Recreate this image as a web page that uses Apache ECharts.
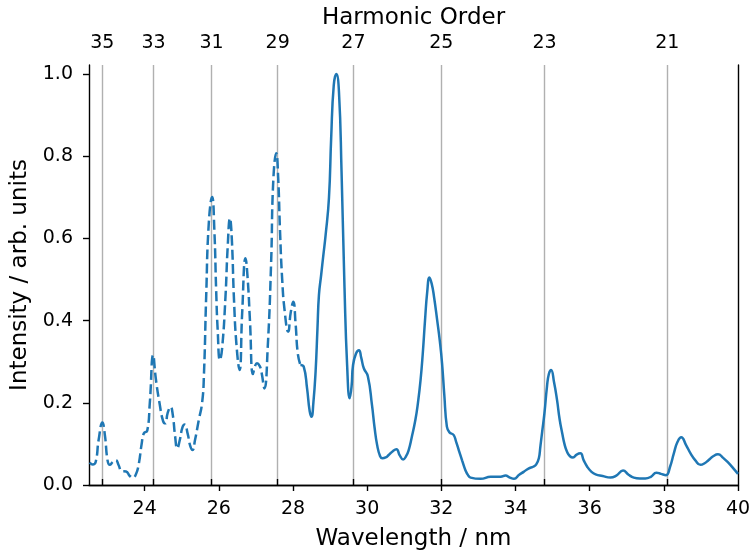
<!DOCTYPE html>
<html>
<head>
<meta charset="utf-8">
<script src="https://cdn.jsdelivr.net/npm/echarts@6/dist/echarts.min.js"></script>
<style>
html,body{margin:0;padding:0;background:#fff;}
#chart{width:752px;height:552px;}
</style>
</head>
<body>
<div id="chart"></div>
<script>
// ---- data ----
const FUNDAMENTAL_NM = 800;
const harmonicOrders = [35, 33, 31, 29, 27, 25, 23, 21];
const xTickValues = [24, 26, 28, 30, 32, 34, 36, 38, 40];
const yTickValues = [0, 0.2, 0.4, 0.6, 0.8, 1.0];

// dashed part of the spectrum (short wavelengths)
const dashedWavelength = [22.52,22.6,22.68,22.76,22.86,22.93,23.0,23.06,23.14,23.22,23.3,23.38,23.5,23.6,23.68,23.76,23.84,23.92,23.98,24.07,24.14,24.23,24.3,24.4,24.5,24.56,24.62,24.7,24.76,24.82,24.88,24.95,25.02,25.08,25.16,25.23,25.29,25.36,25.46,25.55,25.6,25.66,25.73,25.82,25.88,25.93,25.97,26.03,26.09,26.18,26.24,26.3,26.35,26.41,26.48,26.56,26.63,26.72,26.78,26.84,26.92,26.98,27.03,27.1,27.15,27.23,27.32,27.41,27.47,27.55,27.6,27.65,27.71,27.78,27.87,27.94,28.01,28.07,28.13,28.2];
const dashedIntensity = [0.055,0.05,0.056,0.11,0.152,0.12,0.06,0.049,0.056,0.061,0.048,0.034,0.033,0.022,0.018,0.025,0.05,0.1,0.126,0.132,0.2,0.316,0.26,0.2,0.155,0.15,0.175,0.19,0.17,0.12,0.089,0.11,0.14,0.147,0.125,0.095,0.085,0.11,0.158,0.2,0.27,0.46,0.637,0.701,0.62,0.47,0.377,0.304,0.333,0.458,0.58,0.649,0.6,0.45,0.337,0.28,0.418,0.552,0.5,0.4,0.27,0.29,0.296,0.29,0.275,0.235,0.337,0.539,0.742,0.807,0.75,0.62,0.499,0.42,0.373,0.42,0.446,0.393,0.32,0.292];

// solid part of the spectrum (long wavelengths)
const solidWavelength = [28.2,28.29,28.38,28.45,28.5,28.55,28.61,28.66,28.7,28.76,28.82,28.88,28.97,29.03,29.1,29.17,29.24,29.31,29.39,29.46,29.53,29.58,29.62,29.7,29.78,29.84,29.91,30.02,30.13,30.2,30.27,30.35,30.41,30.5,30.58,30.7,30.79,30.88,30.97,31.05,31.12,31.2,31.3,31.37,31.44,31.5,31.56,31.62,31.68,31.74,31.8,31.89,31.96,32.02,32.08,32.15,32.22,32.33,32.4,32.47,32.56,32.65,32.72,32.79,33.06,33.33,33.6,33.73,33.85,33.96,34.1,34.22,34.35,34.49,34.56,34.63,34.67,34.72,34.78,34.85,34.9,34.96,35.04,35.12,35.19,35.26,35.32,35.39,35.47,35.55,35.65,35.75,35.84,35.93,36.05,36.16,36.35,36.56,36.72,36.9,37.05,37.19,37.35,37.5,37.65,37.8,37.92,38.06,38.17,38.27,38.37,38.47,38.6,38.72,38.85,38.99,39.1,39.21,39.33,39.46,39.6,39.75,39.88,40.0];
const solidIntensity = [0.292,0.288,0.235,0.18,0.166,0.2,0.276,0.38,0.462,0.511,0.56,0.608,0.698,0.844,0.973,1.0,0.957,0.762,0.479,0.292,0.211,0.24,0.292,0.32,0.328,0.31,0.284,0.264,0.195,0.14,0.097,0.07,0.065,0.067,0.073,0.083,0.087,0.072,0.062,0.07,0.085,0.115,0.158,0.2,0.255,0.32,0.4,0.47,0.505,0.49,0.46,0.4,0.35,0.296,0.22,0.142,0.128,0.122,0.105,0.085,0.06,0.036,0.024,0.018,0.015,0.02,0.02,0.023,0.018,0.015,0.025,0.032,0.04,0.045,0.05,0.065,0.093,0.13,0.174,0.24,0.27,0.28,0.25,0.207,0.16,0.126,0.1,0.081,0.07,0.067,0.074,0.077,0.06,0.045,0.032,0.026,0.022,0.018,0.023,0.035,0.025,0.018,0.016,0.016,0.02,0.03,0.027,0.024,0.045,0.077,0.105,0.116,0.097,0.077,0.06,0.049,0.053,0.061,0.07,0.075,0.066,0.053,0.04,0.027];

const X_MIN = 22.5, X_MAX = 40, Y_MIN = 0, Y_MAX = 1.022;

// ---- build options ----
const zip = (a, b) => a.map((v, i) => [v, b[i]]);
const harmonicWavelengths = harmonicOrders.map(n => FUNDAMENTAL_NM / n);

const FONT = 'DejaVu Sans';
const BLUE = '#1f77b4';
const axisLineStyle = { color: '#000', width: 1.4 };

const chart = echarts.init(document.getElementById('chart'), null, { renderer: 'canvas' });
chart.setOption({
  animation: false,
  backgroundColor: '#fff',
  grid: { left: 89, right: 14, top: 65, bottom: 67, containLabel: false, outerBoundsMode: 'none' },
  xAxis: [
    {
      type: 'value', position: 'bottom', min: X_MIN, max: X_MAX,
      name: 'Wavelength / nm', nameLocation: 'middle', nameGap: 43,
      nameTextStyle: { fontFamily: FONT, fontSize: 23, color: '#000' },
      axisLine: { show: true, lineStyle: axisLineStyle },
      axisTick: { show: true, inside: false, length: 6, lineStyle: axisLineStyle, customValues: xTickValues },
      axisLabel: { fontFamily: FONT, fontSize: 19, color: '#000', margin: 15, customValues: xTickValues,
                   formatter: v => String(Math.round(v)) },
      splitLine: { show: false }
    },
    {
      type: 'value', position: 'top', min: X_MIN, max: X_MAX,
      name: 'Harmonic Order', nameLocation: 'middle', nameGap: 33,
      nameTextStyle: { fontFamily: FONT, fontSize: 23, color: '#000' },
      axisLine: { show: true, lineStyle: axisLineStyle },
      axisTick: { show: true, inside: false, length: 6, lineStyle: axisLineStyle, customValues: harmonicWavelengths },
      axisLabel: { fontFamily: FONT, fontSize: 19, color: '#000', margin: 12, customValues: harmonicWavelengths,
                   formatter: v => String(Math.round(FUNDAMENTAL_NM / v)) },
      splitLine: { show: true, lineStyle: { color: '#b0b0b0', width: 1.4, type: 'solid' } }
    }
  ],
  yAxis: [
    {
      type: 'value', position: 'left', min: Y_MIN, max: Y_MAX,
      name: 'Intensity / arb. units', nameLocation: 'middle', nameGap: 48,
      nameTextStyle: { fontFamily: FONT, fontSize: 23, color: '#000' },
      axisLine: { show: true, lineStyle: axisLineStyle },
      axisTick: { show: true, inside: false, length: 6, lineStyle: axisLineStyle, customValues: yTickValues },
      axisLabel: { fontFamily: FONT, fontSize: 19, color: '#000', margin: 16, customValues: yTickValues,
                   formatter: v => v.toFixed(1) },
      splitLine: { show: false }
    },
    {
      type: 'value', position: 'right', min: Y_MIN, max: Y_MAX,
      axisLine: { show: true, lineStyle: axisLineStyle },
      axisTick: { show: false }, axisLabel: { show: false }, splitLine: { show: false }
    }
  ],
  series: [
    {
      name: 'dashed', type: 'line', xAxisIndex: 0, yAxisIndex: 0, z: 3,
      data: zip(dashedWavelength, dashedIntensity),
      showSymbol: false, smooth: 0.5,
      lineStyle: { color: BLUE, width: 2.5, type: [10, 4.3] }
    },
    {
      name: 'solid', type: 'line', xAxisIndex: 0, yAxisIndex: 0, z: 3,
      data: zip(solidWavelength, solidIntensity),
      showSymbol: false, smooth: 0.5,
      lineStyle: { color: BLUE, width: 2.5, type: 'solid' }
    }
  ]
});
</script>
</body>
</html>
